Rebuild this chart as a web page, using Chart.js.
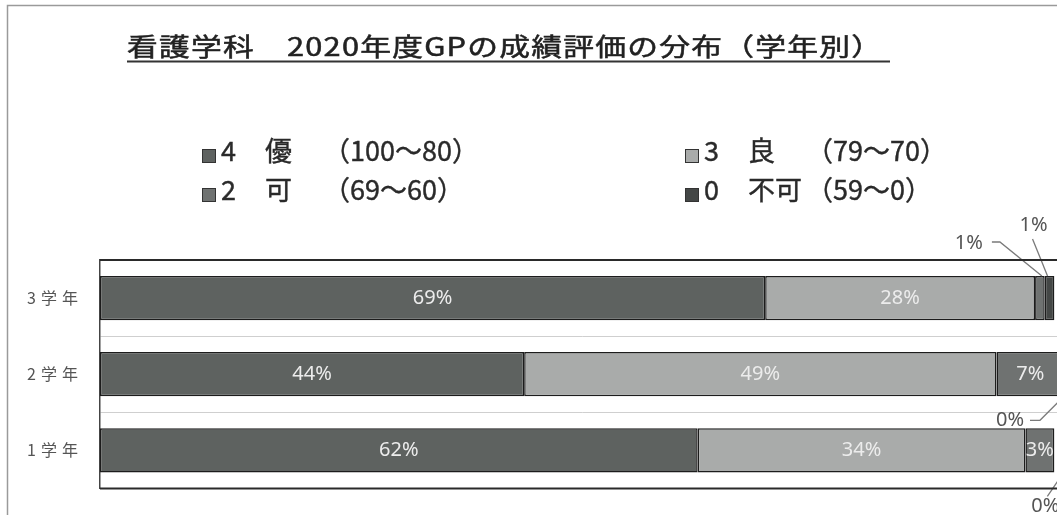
<!DOCTYPE html>
<html><head><meta charset="utf-8">
<script src="https://cdn.jsdelivr.net/npm/chart.js@4/dist/chart.umd.min.js"></script>
<style>
html,body{margin:0;padding:0;background:#fff;overflow:hidden;width:1057px;height:515px}
#wrap{position:relative;width:1090px;height:515px}
canvas{display:block}
</style></head><body>
<div id="wrap"><canvas id="c" width="1090" height="515"></canvas></div>
<script>
// ---- data ----
const titleText = '看護学科　2020年度GPの成績評価の分布（学年別）';
const categories = ['3学年', '2学年', '1学年'];
const seriesCodes = ['4', '3', '2', '0'];
const seriesNames = ['優', '良', '可', '不可'];
const seriesRanges = ['（100～80）', '（79～70）', '（69～60）', '（59～0）'];
const excellent = [69, 44, 62];   // 4 優
const good = [28, 49, 34];        // 3 良
const pass = [1, 7, 3];           // 2 可
const fail = [1, 0, 0];           // 0 不可
const seriesValues = [excellent, good, pass, fail];
const seriesColors = ['#5e6260', '#a9abaa', '#6f7271', '#444746'];

const CJK = '"Noto Sans CJK JP", "Noto Sans", sans-serif';

// callout label placement for small segments (offsets relative to the segment centre edge)
const callouts = {
  '2-0': {edge: 'top', text: [-71, -33], line: [[-48, -34], [-40, -34], [2, 0]]},
  '3-0': {edge: 'top', text: [-16, -51], line: [[-17, -37], [-2, 0]]},
  '3-1': {edge: 'bottom', text: [-54, 24], line: [[-34, 24], [-24, 24], [0, 0]]},
  '3-2': {edge: 'bottom', text: [-9, 34], line: [[-7, 24], [8, 2]]}
};

const decorPlugin = {
  id: 'decor',
  beforeDraw(chart) {
    const ctx = chart.ctx;
    ctx.save();
    ctx.fillStyle = '#fff';
    ctx.fillRect(0, 0, chart.width, chart.height);
    ctx.restore();
    ctx.letterSpacing = '5px';   // for the category tick labels
  },
  beforeDatasetsDraw(chart) {
    chart.ctx.letterSpacing = '0px';
  },
  afterDatasetsDraw(chart) {
    const ctx = chart.ctx;
    ctx.save();
    ctx.letterSpacing = '0px';
    chart.data.datasets.forEach((ds, di) => {
      const meta = chart.getDatasetMeta(di);
      meta.data.forEach((el, i) => {
        const v = ds.data[i];
        const cx = (el.x + el.base) / 2;
        const key = di + '-' + i;
        if (callouts[key]) {
          const c = callouts[key];
          const ay = c.edge === 'top' ? el.y - el.height / 2 : el.y + el.height / 2;
          ctx.strokeStyle = '#7a7a7a';
          ctx.lineWidth = 1.3;
          ctx.beginPath();
          c.line.forEach((p, k) => {
            if (k === 0) ctx.moveTo(cx + p[0], ay + p[1]); else ctx.lineTo(cx + p[0], ay + p[1]);
          });
          ctx.stroke();
          ctx.fillStyle = '#555';
          ctx.font = '20px "Noto Sans", sans-serif';
          ctx.textAlign = 'center';
          ctx.textBaseline = 'middle';
          ctx.fillText(v + '%', cx + c.text[0], ay + c.text[1]);
        } else if (v >= 3) {
          ctx.fillStyle = '#ececec';
          ctx.font = '20px "Noto Sans", sans-serif';
          ctx.textAlign = 'center';
          ctx.textBaseline = 'middle';
          ctx.fillText(v + '%', cx, el.y);
        }
      });
    });
    ctx.restore();
  },
  afterDraw(chart) {
    const ctx = chart.ctx;
    const a = chart.chartArea;
    ctx.save();
    ctx.letterSpacing = '0px';
    // outer sheet frame
    ctx.strokeStyle = '#9a9a9a';
    ctx.lineWidth = 1.5;
    ctx.beginPath();
    ctx.moveTo(7.5, chart.height);
    ctx.lineTo(7.5, 5.5);
    ctx.lineTo(chart.width, 5.5);
    ctx.stroke();
    // plot frame top / bottom
    ctx.strokeStyle = '#2a2a2a';
    ctx.lineWidth = 2;
    ctx.beginPath();
    ctx.moveTo(a.left, a.top); ctx.lineTo(chart.width, a.top);
    ctx.moveTo(a.left, a.bottom); ctx.lineTo(chart.width, a.bottom);
    ctx.stroke();

    // title (stretched horizontally like the scanned original)
    ctx.save();
    ctx.fillStyle = '#222';
    ctx.strokeStyle = '#222';
    ctx.lineWidth = 0.5;
    ctx.font = '25px ' + CJK;
    ctx.textAlign = 'left';
    ctx.textBaseline = 'alphabetic';
    ctx.letterSpacing = '1px';
    const w = ctx.measureText(titleText).width - 1;
    const sx = 755 / w;
    ctx.translate(127, 56);
    ctx.scale(sx, 1);
    ctx.fillText(titleText, 0, 0);
    ctx.strokeText(titleText, 0, 0);
    ctx.restore();
    ctx.letterSpacing = '0px';
    ctx.strokeStyle = '#333';
    ctx.lineWidth = 2;
    ctx.beginPath();
    ctx.moveTo(127, 61.5); ctx.lineTo(890, 61.5);
    ctx.stroke();

    // legend (2 x 2 grid)
    const cols = [202, 685];
    const rows = [161, 200];
    chart.data.datasets.forEach((ds, i) => {
      const bx = cols[i % 2];
      const base = rows[Math.floor(i / 2)];
      ctx.fillStyle = ds.backgroundColor;
      ctx.fillRect(bx, base - 12, 14, 14);
      ctx.strokeStyle = '#333';
      ctx.lineWidth = 1;
      ctx.strokeRect(bx + 0.5, base - 11.5, 13, 13);
      ctx.fillStyle = '#2a2a2a';
      ctx.strokeStyle = '#2a2a2a';
      ctx.lineWidth = 0.4;
      ctx.font = '27px ' + CJK;
      ctx.textAlign = 'left';
      const nx = bx + 63;
      const nw = ctx.measureText(seriesNames[i]).width;
      const rx = Math.max(bx + 121, nx + nw - 14);
      [[seriesCodes[i], bx + 19], [seriesNames[i], nx], [seriesRanges[i], rx]].forEach(([t, x]) => {
        ctx.fillText(t, x, base);
        ctx.strokeText(t, x, base);
      });
    });
    ctx.restore();
  }
};

new Chart(document.getElementById('c'), {
  type: 'bar',
  data: {
    labels: categories,
    datasets: seriesValues.map((vals, i) => ({
      label: seriesCodes[i] + ' ' + seriesNames[i] + ' ' + seriesRanges[i],
      data: vals,
      backgroundColor: seriesColors[i],
      borderColor: '#1c1c1c',
      borderWidth: 1.5,
      borderSkipped: false,
      barPercentage: 0.58,
      categoryPercentage: 1
    }))
  },
  options: {
    indexAxis: 'y',
    responsive: false,
    animation: false,
    devicePixelRatio: 1,
    layout: {padding: {top: 260, bottom: 26, left: 0, right: 26}},
    plugins: {legend: {display: false}, title: {display: false}, tooltip: {enabled: false}},
    scales: {
      x: {stacked: true, min: 0, max: 100, display: false},
      y: {
        stacked: true,
        afterFit: (s) => { s.width = 100; },
        grid: {color: '#cfcfcf', lineWidth: 1, drawTicks: false},
        border: {display: true, color: '#444', width: 1.5},
        ticks: {color: '#555', padding: 17, font: {family: CJK, size: 16}}
      }
    }
  },
  plugins: [decorPlugin]
});
</script>
</body></html>
